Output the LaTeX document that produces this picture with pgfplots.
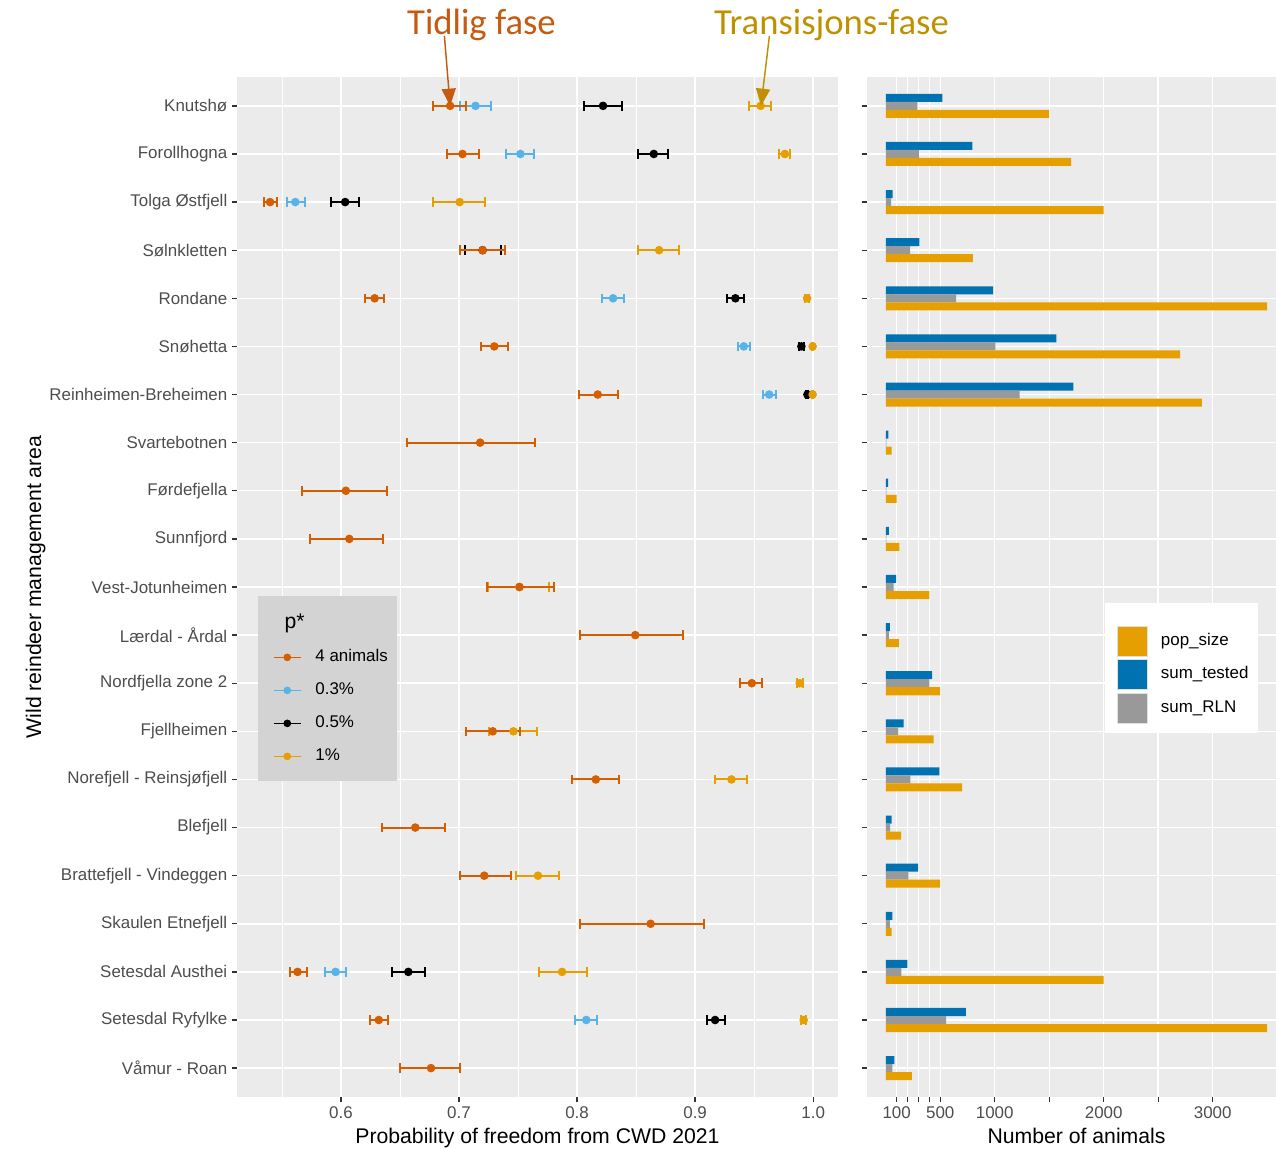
\documentclass[border=0pt]{standalone}
\usepackage{fontspec}
\setmainfont{Liberation Sans}
\newfontfamily\calibri{Carlito}
\usepackage{pgfplots}
\pgfplotsset{compat=1.18}
\usepackage{pgfplotstable}
\usetikzlibrary{arrows.meta}

\definecolor{panelbg}{HTML}{EBEBEB}
\definecolor{tickgray}{HTML}{4D4D4D}
\definecolor{tickmark}{HTML}{333333}
\definecolor{cAnimals}{HTML}{D55E00}
\definecolor{cLow}{HTML}{56B4E9}
\definecolor{cMid}{HTML}{000000}
\definecolor{cHigh}{HTML}{E69F00}
\definecolor{popc}{HTML}{E69F00}
\definecolor{testc}{HTML}{0072B2}
\definecolor{rlnc}{HTML}{999999}
\definecolor{legbg}{HTML}{D3D3D3}
\definecolor{earlyc}{HTML}{C55A11}
\definecolor{transc}{HTML}{BF9000}

% Probability of freedom: row position (21 = Knutsho ... 1 = Vamur - Roan), estimate, interval
\pgfplotstableread{
y x lo hi
21 0.6925 0.678 0.706
20 0.703 0.690 0.7166
19 0.540 0.5347 0.5458
18 0.720 0.701 0.739
17 0.6286 0.6205 0.6367
16 0.7299 0.7188 0.7412
15 0.8175 0.802 0.8347
14 0.7179 0.6558 0.7643
13 0.6042 0.5669 0.639
12 0.6071 0.5734 0.6354
11 0.7513 0.7234 0.7802
10 0.8493 0.8026 0.8893
9 0.948 0.938 0.9565
8 0.7286 0.7058 0.752
7 0.8159 0.7955 0.8357
6 0.663 0.635 0.688
5 0.7214 0.701 0.7438
4 0.8623 0.8026 0.9075
3 0.5633 0.5565 0.5711
2 0.6321 0.6247 0.6403
1 0.6763 0.650 0.7006
}\tabAnimals

\pgfplotstableread{
y x lo hi
21 0.714 0.701 0.727
20 0.752 0.740 0.7636
19 0.5614 0.554 0.5695
17 0.8305 0.8211 0.840
16 0.9412 0.9364 0.9464
15 0.9627 0.9571 0.9685
3 0.5955 0.5864 0.6042
2 0.8078 0.798 0.8172
}\tabLow

\pgfplotstableread{
y x lo hi
21 0.822 0.806 0.838
20 0.865 0.852 0.877
19 0.6036 0.5912 0.6156
18 0.720 0.7049 0.7354
17 0.9341 0.9266 0.9412
16 0.990 0.988 0.992
15 0.9951 0.994 0.996
3 0.6571 0.6432 0.6708
2 0.9169 0.9097 0.925
}\tabMid

\pgfplotstableread{
y x lo hi
21 0.9555 0.946 0.964
20 0.976 0.971 0.9805
19 0.7006 0.678 0.722
18 0.8695 0.8516 0.8867
17 0.9948 0.993 0.9965
16 0.9995 0.999 1.0
15 0.9995 0.999 1.0
11 0.751 0.7243 0.7763
9 0.9886 0.986 0.9916
8 0.7461 0.7253 0.7662
7 0.9308 0.9166 0.9435
5 0.7669 0.748 0.7844
3 0.7873 0.7675 0.8088
2 0.9919 0.990 0.9935
}\tabHigh

% Number of animals per area
\pgfplotstableread{
y tested rln pop
21 520 290 1500
20 795 303 1700
19 64 49 2000
18 309 223 800
17 985 645 3500
16 1566 1006 2700
15 1722 1229 2900
14 24 6 55
13 21 5 100
12 28 6 125
11 95 73 400
10 37 28 120
9 425 400 500
8 165 113 440
7 492 226 700
6 55 40 140
5 297 208 500
4 61 37 55
3 199 144 2000
2 734 553 3500
1 80 61 240
}\tabCounts

\pgfplotsset{
  every error bar/.append style={line width=1.5pt},
  ggpanel/.style={
    scale only axis,
    height=765pt,
    ymin=0.4, ymax=21.6,
    ytick={1,...,21},
    axis background/.style={fill=panelbg},
    axis line style={draw=none},
    tick align=outside,
    xtick pos=left, ytick pos=left,
    major tick length=3.75pt,
    minor tick length=0pt,
    tick style={color=tickmark, line width=1pt},
    xmajorgrids, ymajorgrids,
    major grid style={draw=white, line width=1.1pt},
    minor grid style={draw=white, line width=0.55pt},
    ticklabel style={font=\fontsize{12.7}{15}\selectfont, text=tickgray},
  },
  errseries/.style={
    only marks, mark=*, mark size=2.75pt, color=#1, line width=1.5pt,
    mark options={fill=#1, draw=#1, line width=0.9pt},
    /pgfplots/error bars/x dir=both,
    /pgfplots/error bars/x explicit,
    /pgfplots/error bars/error bar style={line width=1.5pt, color=#1},
    /pgfplots/error bars/error mark=-,
    /pgfplots/error bars/error mark options={rotate=90, mark size=3.6pt, line width=1.5pt, color=#1},
  },
  /pgfplots/table/intervalcols/.style={x=x, y=y,
    x error plus expr=\thisrow{hi}-\thisrow{x},
    x error minus expr=\thisrow{x}-\thisrow{lo}},
}

\begin{document}
\begin{tikzpicture}
\useasboundingbox (0,0) rectangle (957pt,861pt);

% ---------- left panel: probability of freedom ----------
\begin{axis}[ggpanel,
  at={(177.75pt,38.25pt)}, anchor=south west,
  width=450.75pt,
  xmin=0.512, xmax=1.021,
  xtick={0.6,0.7,0.8,0.9,1.0},
  xticklabels={0.6,0.7,0.8,0.9,1.0},
  minor xtick={0.55,0.65,0.75,0.85,0.95},
  xminorgrids,
  yticklabels={V{\aa}mur - Roan, Setesdal Ryfylke, Setesdal Austhei, Skaulen Etnefjell,
    Brattefjell - Vindeggen, Blefjell, Norefjell - Reinsj{\o}fjell, Fjellheimen,
    Nordfjella zone 2, L{\ae}rdal - {\AA}rdal, Vest-Jotunheimen, Sunnfjord,
    F{\o}rdefjella, Svartebotnen, Reinheimen-Breheimen, Sn{\o}hetta, Rondane,
    S{\o}lnkletten, Tolga {\O}stfjell, Forollhogna, Knutsh{\o}},
  legend style={
    at={(axis cs:0.5424,10.395)}, anchor=north west,
    fill=none, draw=none, inner sep=0pt,
    font=\fontsize{12.7}{15}\selectfont,
    nodes={inner sep=0pt, text height=9.2pt, text depth=2.8pt},
    column sep=10.5pt, row sep=12.75pt,
  },
  legend cell align=left,
  legend image code/.code={\draw[mark repeat=2,mark phase=2,#1] plot coordinates {(0pt,0pt) (9.95pt,0pt) (19.9pt,0pt)};},
]
\addplot[forget plot, errseries=cMid] table[intervalcols] {\tabMid};
\addplot[forget plot, errseries=cLow] table[intervalcols] {\tabLow};
\addplot[forget plot, errseries=cHigh] table[intervalcols] {\tabHigh};
\addplot[forget plot, errseries=cAnimals] table[intervalcols] {\tabAnimals};

\fill[legbg] (axis cs:0.52966,10.822) rectangle (axis cs:0.64746,6.96);

\addlegendimage{empty legend}
\addlegendentry{\hspace*{-32.25pt}\fontsize{15.9}{17}\selectfont p*}
\addlegendimage{color=cAnimals, line width=1.3pt, mark=*, mark size=2.6pt, mark options={line width=0.5pt}}
\addlegendentry{4 animals}
\addlegendimage{color=cLow, line width=1.3pt, mark=*, mark size=2.6pt, mark options={line width=0.5pt}}
\addlegendentry{0.3\%}
\addlegendimage{color=cMid, line width=1.3pt, mark=*, mark size=2.6pt, mark options={line width=0.5pt}}
\addlegendentry{0.5\%}
\addlegendimage{color=cHigh, line width=1.3pt, mark=*, mark size=2.6pt, mark options={line width=0.5pt}}
\addlegendentry{1\%}
\end{axis}

% ---------- right panel: number of animals ----------
\begin{axis}[ggpanel,
  at={(650pt,38.25pt)}, anchor=south west,
  width=314.7pt,
  xmin=-175, xmax=3675,
  xtick={1000,1500,2000,2500,3000},
  xticklabels={1000,,2000,,3000},
  minor xtick={100,200,300,400,500},
  minor tick length=3.75pt,
  xminorgrids,
  minor grid style={draw=white, line width=0.75pt},
  extra x ticks={100,500},
  extra x tick labels={100,500},
  extra x tick style={grid=none},
  yticklabels={},
  legend style={
    at={(axis cs:2122,10.205)}, anchor=north west,
    fill=none, draw=none, inner sep=0pt,
    font=\fontsize{12.7}{15}\selectfont,
    nodes={inner sep=0pt, text height=9.2pt, text depth=2.8pt},
    column sep=9.75pt, row sep=2.25pt,
  },
  legend cell align=left,
  legend image code/.code={\path[#1, draw=white!88!black, line width=0.5pt] (0pt,-11.25pt) rectangle (22.5pt,11.25pt);},
]
\addplot[xbar, bar width=0.1667, bar shift=0.1667, fill=testc, draw=none, forget plot]
  table[x=tested, y=y] {\tabCounts};
\addplot[xbar, bar width=0.1667, bar shift=0, fill=rlnc, draw=none, forget plot]
  table[x=rln, y=y] {\tabCounts};
\addplot[xbar, bar width=0.1667, bar shift=-0.1667, fill=popc, draw=none, forget plot]
  table[x=pop, y=y] {\tabCounts};

\fill[white] (axis cs:2012,10.677) rectangle (axis cs:3416,7.957);

\addlegendimage{fill=popc}
\addlegendentry{pop\_size}
\addlegendimage{fill=testc}
\addlegendentry{sum\_tested}
\addlegendimage{fill=rlnc}
\addlegendentry{sum\_RLN}
\end{axis}

% axis titles
\node[anchor=base, font=\fontsize{15.9}{18}\selectfont] at (403.1pt,3.75pt)
  {Probability of freedom from CWD 2021};
\node[anchor=base, font=\fontsize{15.9}{18}\selectfont] at (807.4pt,3.75pt)
  {Number of animals};
\node[anchor=base, rotate=90, font=\fontsize{15.9}{18}\selectfont] at (30.75pt,420.75pt)
  {Wild reindeer management area};

% phase annotations
\node[anchor=base, text=earlyc, font=\calibri\fontsize{27.5}{30}\selectfont] at (361.1pt,834.75pt)
  {Tidlig fase};
\node[anchor=base, text=transc, font=\calibri\fontsize{27.5}{30}\selectfont] at (623.6pt,834.75pt)
  {Transisjons-fase};
\draw[earlyc, line width=1.1pt, -{Triangle[width=10.5pt,length=13pt]}]
  (333.3pt,834pt) -- (337.6pt,781.5pt);
\draw[transc, line width=1.1pt, -{Triangle[width=10.5pt,length=13pt]}]
  (577.05pt,834pt) -- (570.75pt,781.5pt);
\end{tikzpicture}
\end{document}
